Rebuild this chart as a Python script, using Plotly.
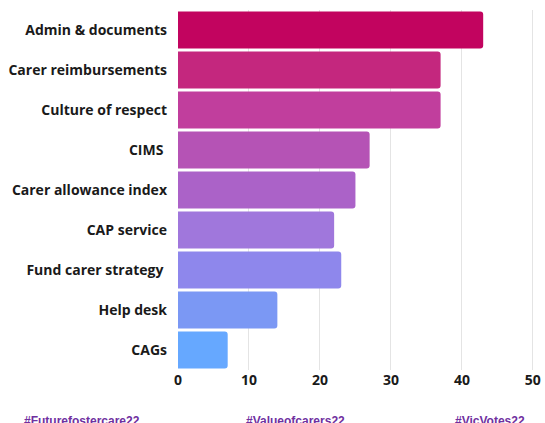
import plotly.graph_objects as go

categories = ["Admin & documents", "Carer reimbursements", "Culture of respect", "CIMS ",
              "Carer allowance index", "CAP service", "Fund carer strategy ", "Help desk", "CAGs"]
values = [43, 37, 37, 27, 25, 22, 23, 14, 7]
colors = ["#C2045F", "#C4277E", "#C13E9D", "#B553B5", "#AB62C8", "#A077DC", "#8E87EC", "#7B98F4", "#66A8FF"]
tick_vals = [0, 10, 20, 30, 40, 50]
hashtags = ["#Futurefostercare22", "#Valueofcarers22", "#VicVotes22"]
hashtag_px = [22, 244, 453]

W, H = 545, 423
L, R, T, B = 178, 10, 10, 53
pw = W - L - R
ph = H - T - B

fig = go.Figure(go.Bar(
    x=values, y=categories, orientation="h",
    marker=dict(color=colors, line=dict(width=0), cornerradius=3),
))

fig.update_layout(
    width=W, height=H,
    margin=dict(l=L, r=R, t=T, b=B, pad=0, autoexpand=False),
    paper_bgcolor="white", plot_bgcolor="white",
    bargap=0.08,
    showlegend=False,
    font=dict(family="Open Sans", size=14, color="#1a1a1a"),
    xaxis=dict(range=[0, 50.3], tickvals=tick_vals, showgrid=True, gridcolor="#e4e4e4",
               gridwidth=1, zeroline=False, showline=False, ticks="", automargin=False,
               tickfont=dict(family="Open Sans", size=14, color="#1a1a1a", weight="bold")),
    yaxis=dict(autorange="reversed", showgrid=False, ticks="", ticklabelstandoff=10,
               automargin=False,
               tickfont=dict(family="Open Sans", size=14, color="#1a1a1a", weight="bold")),
)

for txt, px in zip(hashtags, hashtag_px):
    fig.add_annotation(
        text=txt, xref="paper", yref="paper",
        x=(px - L) / pw, y=(T + ph - 412) / ph,
        xanchor="left", yanchor="top", showarrow=False,
        font=dict(family="Liberation Sans", size=12, color="#7030A0", weight="bold"),
    )

fig.write_html(
    "out.html",
    config={"displayModeBar": False},
    post_script="document.body.style.margin='0px';document.body.style.overflow='hidden';",
)
